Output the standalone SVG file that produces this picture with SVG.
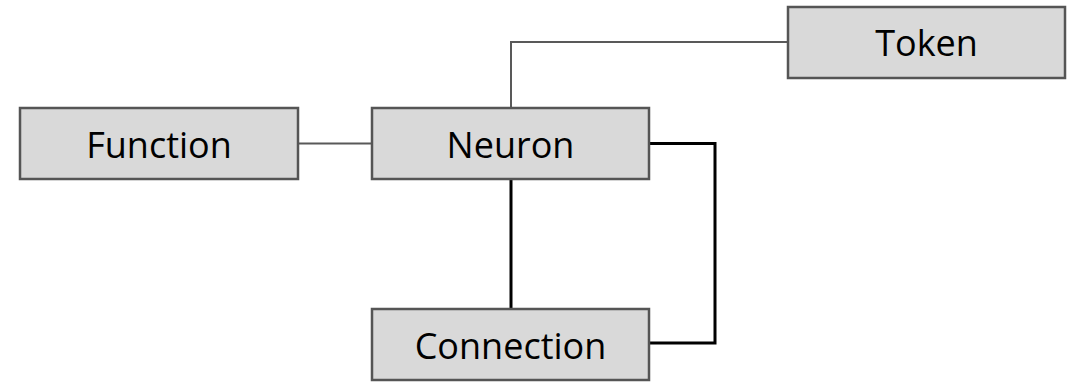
<svg xmlns="http://www.w3.org/2000/svg" width="1076" height="382" viewBox="0 0 1076 382">
<style>
.box{fill:#d9d9d9;stroke:#555;stroke-width:2.5}
.lbl{font-family:"Open Sans","Liberation Sans",sans-serif;font-size:36px;fill:#000;text-anchor:middle}
.thin{fill:none;stroke:#595959;stroke-width:2}
.thick{fill:none;stroke:#000;stroke-width:3}
</style>
<rect width="1076" height="382" fill="#fff"/>
<g id="connectors">
<path class="thin" d="M511 108 V42 H788"/>
<path class="thin" d="M298 143.5 H372"/>
<path class="thick" d="M511 179 V309"/>
<path class="thick" d="M649 143.5 H715 V343 H649"/>
</g>
<g id="token"><rect class="box" x="788" y="7" width="277" height="71"/><text class="lbl" x="926.5" y="56">Token</text></g>
<g id="function"><rect class="box" x="20" y="108" width="278" height="71"/><text class="lbl" x="159" y="157.5">Function</text></g>
<g id="neuron"><rect class="box" x="372" y="108" width="277" height="71"/><text class="lbl" x="510.5" y="157.5">Neuron</text></g>
<g id="connection"><rect class="box" x="372" y="309" width="277" height="71"/><text class="lbl" x="510.5" y="358.5">Connection</text></g>
</svg>
